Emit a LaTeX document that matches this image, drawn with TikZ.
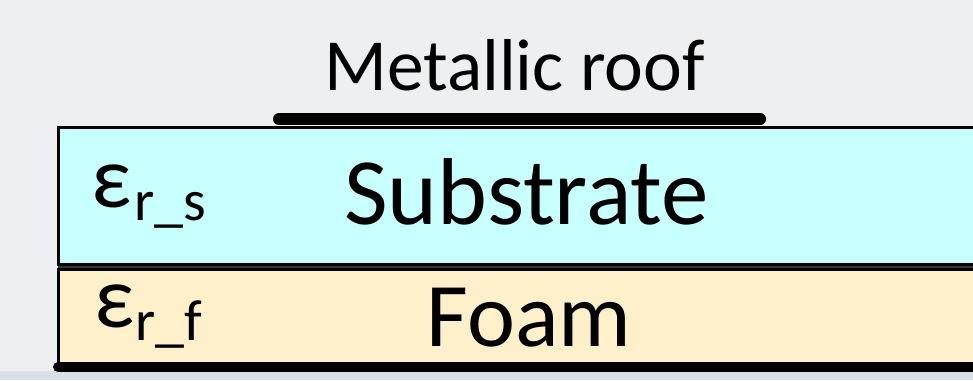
\documentclass[tikz,border=0pt]{standalone}
\usepackage{fontspec}
\setmainfont{Carlito}
\begin{document}
\begin{tikzpicture}[x=1pt,y=-1pt,
  layer/.style={draw=black,line width=3pt},
  bigtext/.style={inner sep=0pt,anchor=base,font=\fontsize{91}{100}\selectfont},
  epstext/.style={inner sep=0pt,anchor=base west,font=\fontsize{88}{100}\selectfont},
  subtext/.style={inner sep=0pt,anchor=base west,font=\fontsize{58}{70}\selectfont}]
\definecolor{bgcol}{HTML}{EEEFF1}
\definecolor{subcol}{HTML}{C8FFFF}
\definecolor{foamcol}{HTML}{FFF0CC}
\definecolor{floorcol}{HTML}{D9E0E8}
\useasboundingbox (0,0) rectangle (973,380);
\clip (0,0) rectangle (973,380);
% backdrop
\fill[bgcol] (0,0) rectangle (973,380);
\fill[floorcol] (0,371) rectangle (973,380);
% dielectric stack
\fill[black!80] (58,265) rectangle (990,269);
\filldraw[layer,fill=subcol] (990,127) -- (58,127) -- (58,264.5) -- (990,264.5);
\filldraw[layer,fill=foamcol] (990,269.5) -- (58,269.5) -- (58,365) -- (990,365);
% ground plane
\coordinate (g0) at (58,367);
\coordinate (g1) at (990,367);
\draw[line width=10pt,line cap=round] (g0) -- (g1);
% metallic roof
\coordinate (r0) at (279,119);
\coordinate (r1) at (760,119);
\draw[line width=12pt,line cap=round] (r0) -- (r1);
% labels
\node[bigtext,font=\fontsize{73.5}{80}\selectfont] (roof) at (514.5,90) {Metallic roof};
\node[bigtext,font=\fontsize{95}{100}\selectfont] (sub) at (526.5,224) {Substrate};
\node[bigtext] (foam) at (529,346) {Foam};
\node[epstext] (eps1) at (91,207) {ε};
\node[subtext] (sub1) at (134,220) {r\_s};
\node[epstext] (eps2) at (94,327) {ε};
\node[subtext] (sub2) at (135,340) {r\_f};
\end{tikzpicture}
\end{document}
